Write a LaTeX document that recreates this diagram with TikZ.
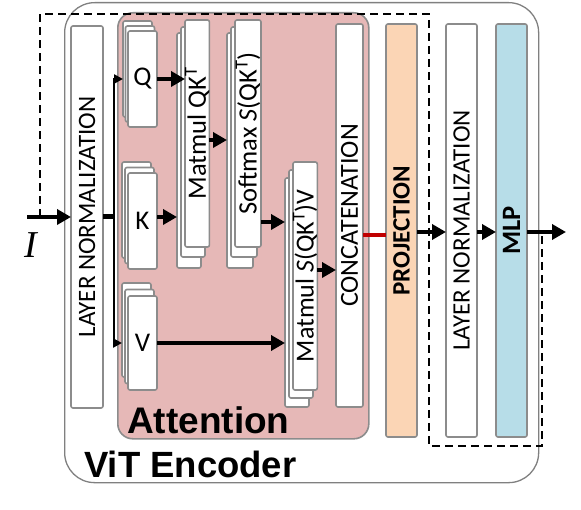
\documentclass[tikz,border=0pt]{standalone}
\usepackage{fontspec}
\usepackage{graphicx}
\setmainfont{Carlito}
\newfontfamily\arialfont{Liberation Sans}
\newfontfamily\timesfont{Liberation Serif}
\usetikzlibrary{arrows.meta,calc}
\definecolor{attpink}{HTML}{E6B8B7}
\definecolor{peach}{HTML}{FBD5B5}
\definecolor{mlpblue}{HTML}{B7DDE8}
\definecolor{boxgray}{HTML}{8C8C8C}
\definecolor{outgray}{HTML}{808080}
\definecolor{darkred}{HTML}{C00000}
\tikzset{
  blk/.style={draw=boxgray, line width=1.6pt, fill=white, rounded corners=2pt,
    inner sep=0pt, outer sep=0pt, anchor=north west, font=\fontsize{25}{28}\selectfont},
  big/.style={font=\fontsize{26.5}{30}\selectfont},
  arr/.style={line width=3.8pt, -{Triangle[length=14pt,width=15pt]}},
  thinarr/.style={line width=2.5pt, {Triangle[length=9pt,width=9pt]}-{Triangle[length=9pt,width=9pt]}},
  dashline/.style={line width=1.8pt, dash pattern=on 8pt off 5pt}
}
\begin{document}
\begin{tikzpicture}[x=1pt,y=-1pt]
\useasboundingbox (0,0) rectangle (581,510);
% outer encoder
\node[draw=outgray, line width=1.3pt, rounded corners=30pt, fill=white, anchor=north west,
  minimum width=474pt, minimum height=480pt, inner sep=0pt] (enc) at (64,2) {};
% attention block
\node[draw=boxgray, line width=1.6pt, rounded corners=15pt, fill=attpink, anchor=north west,
  minimum width=251pt, minimum height=426pt, inner sep=0pt] (att) at (117,12) {};
% layer norm 1
\node[blk, minimum width=32pt, minimum height=382pt] (ln1) at (71,26) {\rotatebox{90}{LAYER NORMALIZATION}};
% Q stack
\node[blk, minimum width=29pt, minimum height=96pt] (qb) at (123,21) {};
\node[blk, minimum width=29pt, minimum height=96pt] (qm) at (125.5,26) {};
\node[blk, minimum width=29pt, minimum height=96pt, font=\fontsize{27}{30}\selectfont] (q) at (128,31) {Q};
% K stack
\node[blk, minimum width=29pt, minimum height=96pt] (kb) at (122,162) {};
\node[blk, minimum width=29pt, minimum height=96pt] (km) at (125,167.5) {};
\node[blk, minimum width=29pt, minimum height=96pt, font=\fontsize{27}{30}\selectfont] (k) at (128,173) {K};
% V stack
\node[blk, minimum width=29pt, minimum height=94pt] (vb) at (122,283) {};
\node[blk, minimum width=29pt, minimum height=94pt] (vm) at (125,289.5) {};
\node[blk, minimum width=29pt, minimum height=94pt, font=\fontsize{27}{30}\selectfont] (v) at (128,296) {V};
% Matmul QK^T stack
\node[blk, minimum width=24pt, minimum height=235pt] (mqkb) at (177,33) {};
\node[blk, minimum width=24pt, minimum height=230pt] (mqkm) at (181,27) {};
\node[blk, big, minimum width=24pt, minimum height=227pt] (mqk) at (185,20) {\rotatebox{90}{Matmul QK\textsuperscript{T}}};
% Softmax stack
\node[blk, minimum width=26pt, minimum height=235pt] (smb) at (227,33) {};
\node[blk, minimum width=26pt, minimum height=230pt] (smm) at (231,27) {};
\node[blk, big, minimum width=26pt, minimum height=227pt] (sm) at (235,20) {\rotatebox{90}{Softmax \textit{S}(QK\textsuperscript{T})}};
% Matmul S(QK^T)V stack
\node[blk, minimum width=24pt, minimum height=229pt] (msvb) at (285,178) {};
\node[blk, minimum width=24pt, minimum height=228pt] (msvm) at (289,170) {};
\node[blk, minimum width=24pt, minimum height=228pt, font=\fontsize{26}{30}\selectfont] (msv) at (293,162) {\rotatebox{90}{Matmul \textit{S}(QK\textsuperscript{T})V}};
% Concatenation
\node[blk, minimum width=27pt, minimum height=383pt, font=\fontsize{26}{30}\selectfont] (cat) at (336,24) {\rotatebox{90}{CONCATENATION}};
% Projection
\node[blk, fill=peach, minimum width=31pt, minimum height=413pt] (proj) at (386,24) {\rotatebox{90}{\bfseries PROJECTION}};
% Layer norm 2
\node[blk, minimum width=31pt, minimum height=413pt] (ln2) at (446,24) {\rotatebox{90}{LAYER NORMALIZATION}};
% MLP
\node[blk, fill=mlpblue, minimum width=31pt, minimum height=413pt, font=\fontsize{26.5}{30}\selectfont] (mlp) at (496,24) {\rotatebox{90}{\bfseries MLP}};
% labels
\node[anchor=base west, inner sep=0pt, font=\arialfont\bfseries\fontsize{37}{40}\selectfont] (attlab) at (127,433) {Attention};
\node[anchor=base west, inner sep=0pt, font=\arialfont\bfseries\fontsize{36.5}{40}\selectfont] (enclab) at (84,477) {ViT Encoder};
\node[inner sep=0pt, font=\timesfont\itshape\fontsize{38}{40}\selectfont] (ilab) at (31,245) {I};
% helper coordinates
\coordinate (in) at (27,217);
\coordinate (tq) at (114,79);
\coordinate (tv) at (114,343);
\coordinate (tmid) at (114,217);
\coordinate (ya) at (0,79);
\coordinate (yk) at (0,217);
\coordinate (ys) at (0,140);
\coordinate (ysv) at (0,222);
\coordinate (yc) at (0,270);
\coordinate (yr) at (0,235);
\coordinate (yo) at (0,232);
\coordinate (out) at (566,232);
\coordinate (d0) at (40,217);
\coordinate (d1) at (40,14);
\coordinate (d2) at (429,14);
\coordinate (d3) at (429,446);
\coordinate (d4) at (542,446);
\coordinate (d5) at (542,232);
% connectors
\draw[arr] (in) -- (ln1.west |- in);
\draw[line width=5pt] (ln1.east |- tmid) -- (tmid);
\draw[thinarr] (qb.west |- tq) -- (tq) -- (tv) -- (vb.west |- tv);
\draw[arr] (q.east |- ya) -- (mqk.west |- ya);
\draw[arr] (k.east |- yk) -- (mqkb.west |- yk);
\draw[arr] (mqk.east |- ys) -- (smb.west |- ys);
\draw[arr] (sm.east |- ysv) -- (msvb.west |- ysv);
\draw[arr] (v.east |- tv) -- (msvb.west |- tv);
\draw[arr] (msv.east |- yc) -- (cat.west |- yc);
\draw[line width=3.6pt, darkred] (cat.east |- yr) -- (proj.west |- yr);
\draw[arr] (proj.east |- yo) -- (ln2.west |- yo);
\draw[arr] (ln2.east |- yo) -- (mlp.west |- yo);
\draw[arr] (mlp.east |- yo) -- (out);
% residual dashed path
\draw[dashline] (d0) -- (d1) -- (d2) -- (d3) -- (d4) -- (d5);
\end{tikzpicture}
\end{document}
